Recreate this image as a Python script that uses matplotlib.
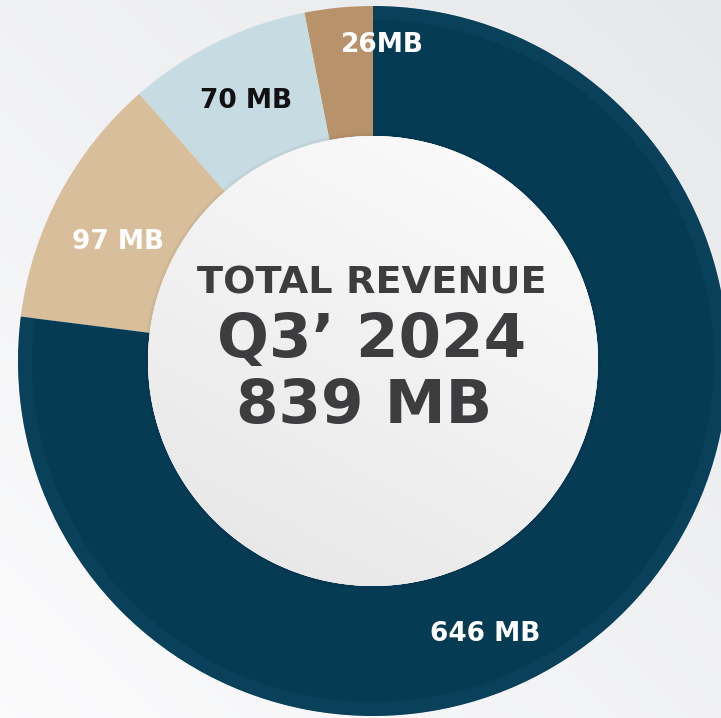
import numpy as np
import matplotlib
matplotlib.use("Agg")
import matplotlib.pyplot as plt
from matplotlib.patches import Circle

# ---- data ----
values = [26, 70, 97, 646]
labels = ["26MB", "70 MB", "97 MB", "646 MB"]
label_colors = ["white", "#111111", "white", "white"]
colors = ["#b8926b", "#c7dbe3", "#d8be9b", "#063b54"]
center_lines = ["TOTAL REVENUE", "Q3\u2019 2024", "839 MB"]

W, H = 721, 718
fig = plt.figure(figsize=(W / 100, H / 100), dpi=100)
ax = fig.add_axes([0, 0, 1, 1])

# background gradient (lighter bottom-left, greyer top-right)
yy, xx = np.mgrid[0:1:200j, 0:1:200j]
g = 0.5 * xx + 0.5 * yy
bg = np.zeros((200, 200, 3))
c0 = np.array([0.985, 0.985, 0.99])
c1 = np.array([0.905, 0.91, 0.918])
for i in range(3):
    bg[..., i] = c0[i] + (c1[i] - c0[i]) * g
ax.imshow(bg, extent=[0, W, 0, H], origin="lower", zorder=0, aspect="auto")

cx, cy = 373, H - 361
R, r = 355, 225

wedges, _ = ax.pie(values, colors=colors, startangle=90, counterclock=True,
                   center=(cx, cy), radius=R, frame=True,
                   wedgeprops=dict(width=R - r, linewidth=0))
for w in wedges:
    w.set_zorder(2)
ax.set_xlim(0, W)
ax.set_ylim(0, H)
ax.set_aspect("auto")
ax.axis("off")

# subtle lighter outer band on the navy ring
band = Circle((cx, cy), R - 7, fill=False, lw=10, ec="#0d4863", alpha=0.45, zorder=3)
band.set_clip_path(wedges[3])
ax.add_patch(band)

# inner disc with soft gradient
shadow = Circle((cx, cy), r + 3, color="#000000", alpha=0.04, zorder=3, lw=0)
ax.add_patch(shadow)
disc = Circle((cx, cy), r, color="#f3f3f3", zorder=4, lw=0)
ax.add_patch(disc)
dimg = np.zeros((200, 200, 3))
d0 = np.array([0.99, 0.99, 0.99])
d1 = np.array([0.90, 0.90, 0.905])
t = 0.35 * xx + 0.65 * yy
for i in range(3):
    dimg[..., i] = d1[i] + (d0[i] - d1[i]) * t
im = ax.imshow(dimg, extent=[cx - r, cx + r, cy - r, cy + r], origin="lower",
               zorder=5, aspect="auto")
im.set_clip_path(disc)

# ring labels (positions in image pixels, y from top)
label_pos = [(382, 45), (246, 101), (118, 242), (485, 634)]
for lab, (lx, ly), lc in zip(labels, label_pos, label_colors):
    ax.text(lx, H - ly, lab, ha="center", va="center", fontsize=19,
            fontweight="bold", color=lc, family="DejaVu Sans", zorder=6)

# centre text
ax.text(372, H - 283, center_lines[0], ha="center", va="center", fontsize=27.5,
        fontweight="bold", color="#3d3d3f", zorder=6)
ax.text(372, H - 341, center_lines[1], ha="center", va="center", fontsize=44,
        fontweight="bold", color="#3d3d3f", zorder=6)
ax.text(364, H - 406, center_lines[2], ha="center", va="center", fontsize=44,
        fontweight="bold", color="#3d3d3f", zorder=6)

fig.savefig("out.png", dpi=100)
